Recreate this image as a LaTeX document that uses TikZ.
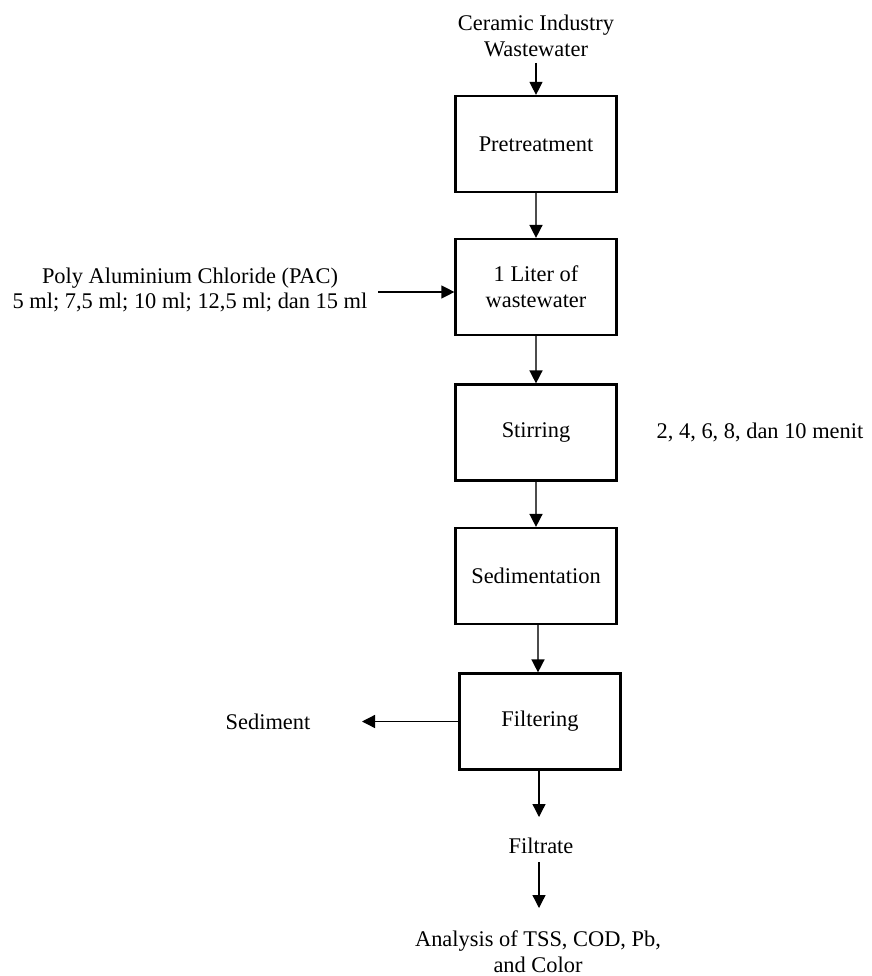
\documentclass[tikz,border=0pt]{standalone}
\usepackage{fontspec}
\setmainfont{Liberation Serif}
\usetikzlibrary{arrows.meta}
\begin{document}
\begin{tikzpicture}[x=1pt,y=-1pt,
  every node/.style={font=\fontsize{22.4}{25.7}\selectfont, inner sep=0pt},
  procbox/.style={draw=black, line width=2.2pt, minimum width=161pt, minimum height=96pt, align=center},
  lbl/.style={align=center},
  flow/.style={draw=black!70, line width=1.5pt, -{Triangle[length=13pt,width=13pt,color=black]}},
  flowk/.style={draw=black, line width=1.3pt, -{Triangle[length=13pt,width=13pt]}}]
\useasboundingbox (0,0) rectangle (871,976);
\node[lbl] (src) at (536,36) {Ceramic Industry\\Wastewater};
\node[procbox] (pre) at (536,144) {Pretreatment};
\node[procbox] (liter) at (536,287) {1 Liter of\\wastewater};
\node[procbox] (stir) at (536,432.5) {Stirring};
\node[procbox] (sed) at (536,576) {Sedimentation};
\node[procbox] (filt) at (540,721.5) {Filtering};
\node[lbl] (pac) at (190,290) {Poly Aluminium Chloride (PAC)\\5 ml; 7,5 ml; 10 ml; 12,5 ml; dan 15 ml};
\node[lbl] (time) at (760,432.5) {2, 4, 6, 8, dan 10 menit};
\node[lbl] (sdm) at (268,722) {Sediment};
\node[lbl] (fil) at (541,846) {Filtrate};
\node[lbl] (ana) at (538,952) {Analysis of TSS, COD, Pb,\\and Color};
\coordinate (srcend) at (536,63);
\coordinate (pacst) at (378,292);
\coordinate (sdmend) at (362,722);
\coordinate (filst) at (539,862);
\coordinate (anaend) at (539,908);
\coordinate (filend) at (539,817);
\draw[flowk] (srcend) -- (pre.north);
\draw[flow] (pre.south) -- (liter.north);
\draw[flowk] (pacst) -- (pacst -| liter.west);
\draw[flow] (liter.south) -- (stir.north);
\draw[flow] (stir.south) -- (sed.north);
\draw[flow] ([xshift=2pt]sed.south) -- ([xshift=2pt]sed.south |- filt.north);
\draw[flowk] (filt.west) -- (filt.west -| sdmend);
\draw[flowk] (filt.south -| filst) -- (filend);
\draw[flowk] (filst) -- (anaend);
\end{tikzpicture}
\end{document}
